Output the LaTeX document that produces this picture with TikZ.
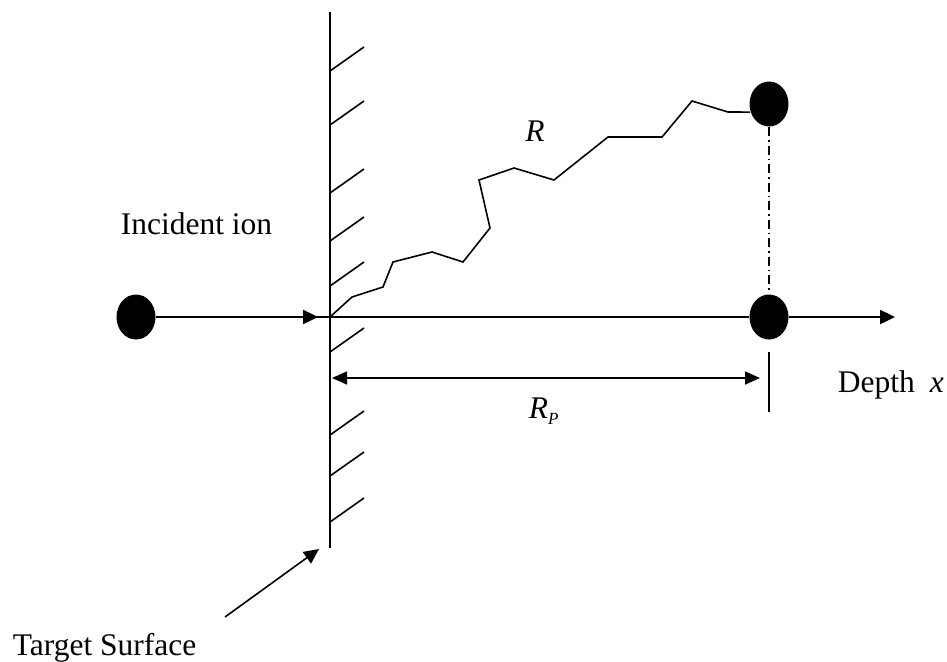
\documentclass[tikz,border=0pt]{standalone}
\usepackage{fontspec}
\setmainfont{Liberation Serif}
\usetikzlibrary{arrows.meta,shapes.geometric}
\begin{document}
\begin{tikzpicture}[x=1pt,y=-1pt,
  line width=1.6pt,
  dot/.style={ellipse,fill=black,draw=none,minimum width=39pt,minimum height=45pt,inner sep=0pt},
  tip/.style={-{Triangle[length=15pt,width=14pt]}},
  twotip/.style={{Triangle[length=15pt,width=13pt]}-{Triangle[length=15pt,width=13pt]}},
  lbl/.style={font=\fontsize{31.5}{37}\selectfont,inner sep=0pt},
  thick seg/.style={line width=2.4pt},
  dashdot/.style={line width=1.3pt,dash pattern=on 9pt off 4pt on 1.5pt off 4pt},
]
\useasboundingbox (0,0) rectangle (947,661);

% nodes
\node[dot] (ion) at (136,317) {};
\node[dot] (stop) at (769,104) {};
\node[dot] (proj) at (769,317) {};
\coordinate (wtop) at (330,12);
\coordinate (wbot) at (330,548);
\coordinate (O) at (330,317);
\coordinate (inA) at (257,317);
\coordinate (inB) at (318,317);
\coordinate (axA) at (832,317);
\coordinate (axB) at (895,317);
\coordinate (tickT) at (769,352);
\coordinate (tickB) at (769,412);
\coordinate (rpL) at (332,378);
\coordinate (rpR) at (760,378);
\coordinate (tsA) at (225,617);
\coordinate (tsB) at (319,549);

% target surface wall with hatching
\draw (wtop) -- (wbot);
\foreach \y in {71,125,193,241,286,352,435,476,522}
  \draw (330,\y) -- ++(34,-24);

% incident ion path
\draw (ion) -- (O);
\draw[tip,thick seg] (inA) -- (inB);

% depth axis
\draw (O) -- (proj);
\draw (proj) -- (axA);
\draw[tip,thick seg] (axA) -- (axB);

% projection line
\draw[dashdot] (stop) -- (proj);

% tick and projected range
\draw (tickT) -- (tickB);
\draw[twotip] (rpL) -- (rpR);

% random path R
\draw[line join=miter] (O) -- (352,297) -- (383,287) -- (393,262) -- (432,252)
  -- (463,262) -- (490,228) -- (479,180) -- (514,168) -- (554,180)
  -- (608,137) -- (662,137) -- (692,101) -- (728,112) -- (stop.203);

% target surface arrow
\draw[tip] (tsA) -- (tsB);

% labels
\node[lbl,anchor=base west] (inc) at (120,234) {Incident ion};
\node[lbl,anchor=base west] (dep) at (837,392) {Depth\hspace{15pt}\textit{x}};
\node[lbl,anchor=base west] (tgt) at (12,655) {Target Surface};
\node[lbl] (rl) at (535,131) {\textit{R}};
\node[lbl,anchor=base west] (rp) at (528,418) {\textit{R}\raisebox{-0.22em}{\fontsize{17}{19}\selectfont\textit{P}}};
\end{tikzpicture}
\end{document}
